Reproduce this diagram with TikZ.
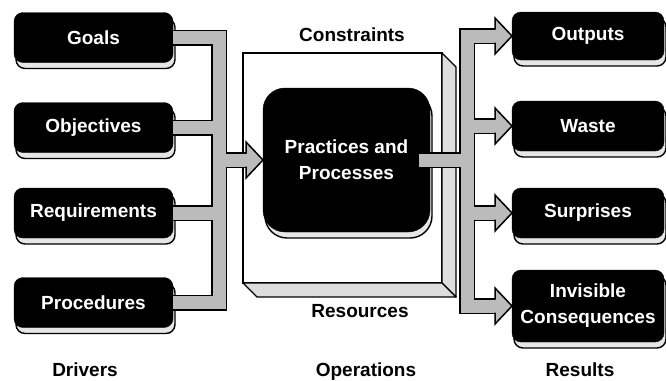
\documentclass[tikz,border=0pt]{standalone}
\usepackage{fontspec}
\setsansfont{Liberation Sans}
\usetikzlibrary{calc}
\definecolor{band}{HTML}{BBBBBB}
\definecolor{face}{HTML}{DDDDDD}
\definecolor{rim}{HTML}{E6E6E6}

\begin{document}
\begin{tikzpicture}[
    x=1pt, y=-1pt,
    every node/.style={font=\sffamily\bfseries\fontsize{19}{26}\selectfont, outer sep=0pt},
    slab/.style={fill=black, draw=black, text=white, align=center, inner sep=0pt,
        rounded corners=9pt, minimum width=#1, minimum height=50pt,
        preaction={fill=rim, draw=black, line width=1.4pt,
            transform canvas={shift={(2pt,-6pt)}}}},
    slab/.default=159pt,
    edge/.style={draw=black, line width=1.5pt},
    lab/.style={anchor=base},
]
\fill[white] (0,0) rectangle (666,380);
\useasboundingbox (0,0) rectangle (666,380);

% ================================================================ drivers
\node[slab] (goals)        at (93.5, 37.5)  {Goals};
\node[slab] (objectives)   at (93.5, 127.5) {Objectives};
\node[slab] (requirements) at (93.5, 213)   {Requirements};
\node[slab] (procedures)   at (93.5, 302.5) {Procedures};

% ================================================================ results
\node[slab=152pt, minimum height=48pt] (outputs)   at (588, 36)  {Outputs};
\node[slab=152pt]                      (waste)     at (588, 126) {Waste};
\node[slab=152pt]                      (surprises) at (588, 213) {Surprises};
\node[slab=152pt, minimum height=72pt] (invisible) at (588, 306) {Invisible\\Consequences};

% ================================================================ operations
\node[draw=black, line width=1.6pt, fill=white, minimum width=199pt, minimum height=230pt]
    (frame) at (342.5, 168) {};
\filldraw[fill=face, draw=black, line width=1.4pt, line join=round]
    (frame.north east) -- ++(14,14) -- ($(frame.south east)+(14,14)$) -- (frame.south east) -- cycle;
\filldraw[fill=face, draw=black, line width=1.4pt, line join=round]
    (frame.south west) -- ++(14,14) -- ($(frame.south east)+(14,14)$) -- (frame.south east) -- cycle;

\node[slab=167pt, minimum height=144pt, rounded corners=22pt] (proc) at (346.5, 160)
    {Practices and\\Processes};

% ================================================================ forks
\coordinate (lbar) at (219, 0);
\coordinate (rbar) at (467, 0);

% outline first, then the grey inside on top
\foreach \w/\col in {16pt/black, 13pt/band}{
    \draw[line width=\w, \col] (goals.east) -| (lbar |- procedures.east) -- (procedures.east);
    \draw[line width=\w, \col] (objectives.east) -- (objectives.east -| lbar);
    \draw[line width=\w, \col] (requirements.east) -- (requirements.east -| lbar);
    \draw[line width=\w, \col] (lbar |- proc.west) -- ([xshift=-16pt]proc.west);
    \draw[line width=\w, \col] ([xshift=-11pt]proc.east) -- (proc.east -| rbar);
    \draw[line width=\w, \col] ([xshift=-16pt]outputs.west) -| (rbar |- invisible.west)
        -- ([xshift=-16pt]invisible.west);
    \draw[line width=\w, \col] ([xshift=-16pt]waste.west) -- (waste.west -| rbar);
    \draw[line width=\w, \col] ([xshift=-16pt]surprises.west) -- (surprises.west -| rbar);
}

% arrow heads
\foreach \t in {proc, outputs, waste, surprises, invisible}{
    \fill[band] (\t.west) -- +(-17,-18) -- +(-17,18) -- cycle;
    \draw[edge, line join=miter]
        (\t.west) ++(-17,-6.5) -- ++(0,-11.5) -- (\t.west) -- ++(-17,18) -- ++(0,-11.5);
}

% ================================================================ labels
\node[lab] (constraints) at (352, 41)  {Constraints};
\node[lab] (resources)   at (360, 317) {Resources};
\node[lab] (drivers)     at (85, 376)  {Drivers};
\node[lab] (operations)  at (366, 376) {Operations};
\node[lab] (results)     at (580, 376) {Results};
\end{tikzpicture}
\end{document}
